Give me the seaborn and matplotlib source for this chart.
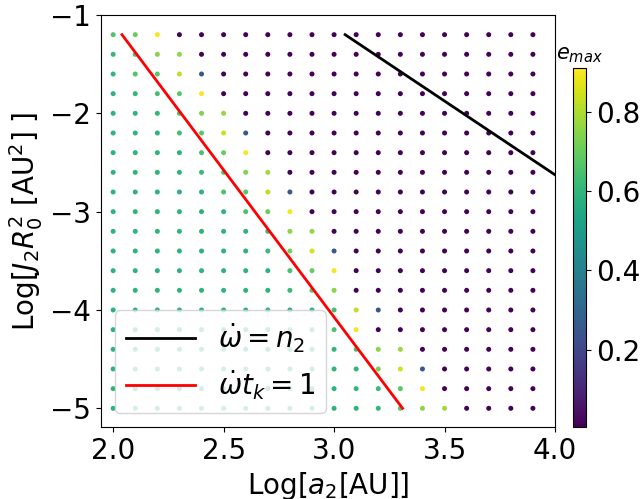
import numpy as np
import pandas as pd
import matplotlib
matplotlib.use("Agg")
import matplotlib.pyplot as plt
import seaborn as sns

# grid coordinates
log_a2 = [2.0, 2.1, 2.2, 2.3, 2.4, 2.5, 2.6, 2.7, 2.8, 2.9,
          3.0, 3.1, 3.2, 3.3, 3.4, 3.5, 3.6, 3.7, 3.8, 3.9]
log_j2r2 = [-1.2, -1.4, -1.6, -1.8, -2.0, -2.2, -2.4, -2.6, -2.8, -3.0,
            -3.2, -3.4, -3.6, -3.8, -4.0, -4.2, -4.4, -4.6, -4.8, -5.0]

# e_max values, one row per log_j2r2 value (top to bottom), columns follow log_a2
e_max_rows = [
    [0.66, 0.70, 0.90, 0.01, 0.01, 0.01, 0.01, 0.01, 0.01, 0.01, 0.01, 0.01, 0.01, 0.01, 0.01, 0.01, 0.01, 0.01, 0.01, 0.01],
    [0.61, 0.66, 0.75, 0.76, 0.01, 0.01, 0.01, 0.01, 0.01, 0.01, 0.01, 0.01, 0.01, 0.01, 0.01, 0.01, 0.01, 0.01, 0.01, 0.01],
    [0.60, 0.66, 0.68, 0.82, 0.25, 0.01, 0.01, 0.01, 0.01, 0.01, 0.01, 0.01, 0.01, 0.01, 0.01, 0.01, 0.01, 0.01, 0.01, 0.01],
    [0.59, 0.60, 0.64, 0.67, 0.90, 0.01, 0.01, 0.01, 0.01, 0.01, 0.01, 0.01, 0.01, 0.01, 0.01, 0.01, 0.01, 0.01, 0.01, 0.01],
    [0.59, 0.59, 0.60, 0.65, 0.74, 0.77, 0.01, 0.01, 0.01, 0.01, 0.01, 0.01, 0.01, 0.01, 0.01, 0.01, 0.01, 0.01, 0.01, 0.01],
    [0.59, 0.59, 0.59, 0.64, 0.67, 0.84, 0.25, 0.01, 0.01, 0.01, 0.01, 0.01, 0.01, 0.01, 0.01, 0.01, 0.01, 0.01, 0.01, 0.01],
    [0.59, 0.59, 0.59, 0.59, 0.65, 0.70, 0.90, 0.01, 0.01, 0.01, 0.01, 0.01, 0.01, 0.01, 0.01, 0.01, 0.01, 0.01, 0.01, 0.01],
    [0.59, 0.59, 0.59, 0.59, 0.62, 0.66, 0.74, 0.78, 0.01, 0.01, 0.01, 0.01, 0.01, 0.01, 0.01, 0.01, 0.01, 0.01, 0.01, 0.01],
    [0.59, 0.59, 0.59, 0.59, 0.59, 0.65, 0.67, 0.82, 0.25, 0.01, 0.01, 0.01, 0.01, 0.01, 0.01, 0.01, 0.01, 0.01, 0.01, 0.01],
    [0.59, 0.59, 0.59, 0.59, 0.59, 0.59, 0.65, 0.70, 0.90, 0.01, 0.01, 0.01, 0.01, 0.01, 0.01, 0.01, 0.01, 0.01, 0.01, 0.01],
    [0.59, 0.59, 0.59, 0.59, 0.59, 0.59, 0.59, 0.62, 0.75, 0.76, 0.01, 0.01, 0.01, 0.01, 0.01, 0.01, 0.01, 0.01, 0.01, 0.01],
    [0.59, 0.59, 0.59, 0.59, 0.59, 0.59, 0.59, 0.62, 0.72, 0.85, 0.25, 0.01, 0.01, 0.01, 0.01, 0.01, 0.01, 0.01, 0.01, 0.01],
    [0.59, 0.59, 0.59, 0.59, 0.59, 0.59, 0.59, 0.59, 0.65, 0.70, 0.90, 0.01, 0.01, 0.01, 0.01, 0.01, 0.01, 0.01, 0.01, 0.01],
    [0.59, 0.59, 0.59, 0.59, 0.59, 0.59, 0.59, 0.59, 0.62, 0.68, 0.75, 0.01, 0.01, 0.01, 0.01, 0.01, 0.01, 0.01, 0.01, 0.01],
    [0.59, 0.59, 0.59, 0.59, 0.59, 0.59, 0.59, 0.59, 0.59, 0.59, 0.64, 0.82, 0.25, 0.01, 0.01, 0.01, 0.01, 0.01, 0.01, 0.01],
    [0.59, 0.59, 0.59, 0.59, 0.59, 0.59, 0.59, 0.59, 0.59, 0.59, 0.65, 0.90, 0.01, 0.01, 0.01, 0.01, 0.01, 0.01, 0.01, 0.01],
    [0.59, 0.59, 0.59, 0.59, 0.59, 0.59, 0.59, 0.59, 0.59, 0.59, 0.60, 0.65, 0.75, 0.77, 0.01, 0.01, 0.01, 0.01, 0.01, 0.01],
    [0.59, 0.59, 0.59, 0.59, 0.59, 0.59, 0.59, 0.59, 0.59, 0.59, 0.60, 0.60, 0.72, 0.84, 0.25, 0.01, 0.01, 0.01, 0.01, 0.01],
    [0.59, 0.59, 0.59, 0.59, 0.59, 0.59, 0.59, 0.59, 0.59, 0.59, 0.59, 0.60, 0.62, 0.68, 0.90, 0.01, 0.01, 0.01, 0.01, 0.01],
    [0.59, 0.59, 0.59, 0.59, 0.59, 0.59, 0.59, 0.59, 0.59, 0.59, 0.59, 0.59, 0.60, 0.68, 0.75, 0.78, 0.01, 0.01, 0.01, 0.01],
]

# resonance lines (end points)
line_n2_x = [3.05, 4.0]
line_n2_y = [-1.2, -2.625]
line_tk_x = [2.04, 3.31]
line_tk_y = [-1.2, -5.0]

e_min, e_max_lim = 0.005, 0.91

records = []
for yi, row in zip(log_j2r2, e_max_rows):
    for xi, ev in zip(log_a2, row):
        records.append((xi, yi, ev))
df = pd.DataFrame(records, columns=["a", "j", "e"])

fig = plt.figure(figsize=(6.44, 4.99), dpi=100)
ax = fig.add_axes([101 / 644, 1 - 427 / 499, 454 / 644, 412 / 499])
cax = fig.add_axes([573 / 644, 1 - 427 / 499, 13 / 644, 359 / 499])

norm = matplotlib.colors.Normalize(vmin=e_min, vmax=e_max_lim)
sns.scatterplot(data=df, x="a", y="j", hue="e", palette="viridis", hue_norm=norm,
                s=13, linewidth=0, legend=False, ax=ax, zorder=2)

ax.plot(line_n2_x, line_n2_y, color="black", lw=2, label=r"$\dot{\omega}=n_2$", zorder=3)
ax.plot(line_tk_x, line_tk_y, color="red", lw=2, label=r"$\dot{\omega}t_k=1$", zorder=3)

ax.set_xlim(1.945, 4.0)
ax.set_ylim(-5.19, -1.0)
ax.set_xticks([2.0, 2.5, 3.0, 3.5, 4.0])
ax.set_yticks([-5, -4, -3, -2, -1])
ax.tick_params(labelsize=20)
ax.set_xlabel(r"Log[$a_2$[AU]]", fontsize=20)
ax.set_ylabel(r"Log[$J_2R_0^2$ [AU$^2$] ]", fontsize=20)
ax.legend(loc="lower left", fontsize=20, handlelength=2.5)

sm = matplotlib.cm.ScalarMappable(norm=norm, cmap="viridis")
cb = fig.colorbar(sm, cax=cax)
cb.set_ticks([0.2, 0.4, 0.6, 0.8])
cb.ax.tick_params(labelsize=20)
cb.outline.set_linewidth(0.8)
cax.set_title(r"$e_{max}$", fontsize=15)

fig.savefig("out.png", dpi=100)
